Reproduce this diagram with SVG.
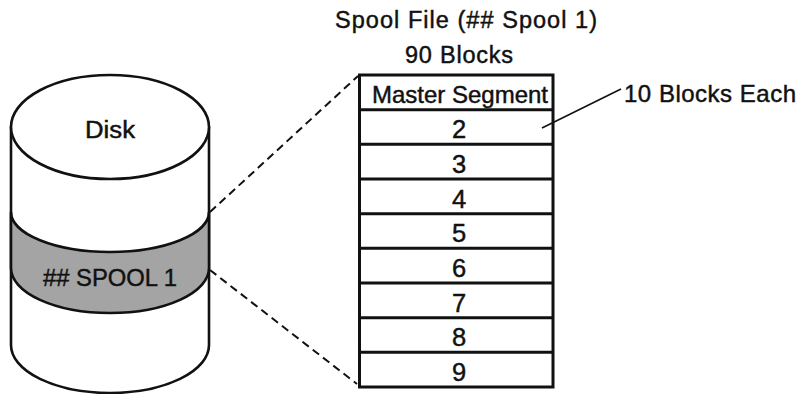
<svg xmlns="http://www.w3.org/2000/svg" width="798" height="394" viewBox="0 0 798 394">
<style>
  .t { font-family: "Liberation Sans", Arial, sans-serif; fill: #111; stroke: #111; stroke-width: 0.45; }
  .cyl { fill: #fff; stroke: #111; stroke-width: 2.6; stroke-linejoin: round; }
  .band { fill: #a4a4a4; stroke: #111; stroke-width: 2.6; }
  .row { fill: #fff; stroke: #111; stroke-width: 3; }
  .dash { fill: none; stroke: #111; stroke-width: 2; stroke-dasharray: 8 5; }
  .lead { fill: none; stroke: #111; stroke-width: 1.6; }
</style>
<rect width="798" height="394" fill="#fff"/>

<g id="disk">
  <path class="cyl" d="M11,127 L11,345 A99,48 0 0,0 209,345 L209,127 Z"/>
  <path class="band" d="M11,212 A99,40 0 0,0 209,212 L209,268 A99,45 0 0,1 11,268 Z"/>
  <ellipse class="cyl" cx="110" cy="127" rx="99" ry="52"/>
  <text class="t" x="85" y="138" font-size="23" textLength="50" lengthAdjust="spacingAndGlyphs">Disk</text>
  <text class="t" x="43" y="286" font-size="24" textLength="134" lengthAdjust="spacingAndGlyphs">## SPOOL 1</text>
</g>

<g id="spool-file-title">
  <text class="t" x="335" y="28" font-size="23.5" textLength="262" lengthAdjust="spacing">Spool File (## Spool 1)</text>
  <text class="t" x="405" y="63" font-size="23.5" textLength="108" lengthAdjust="spacing">90 Blocks</text>
</g>

<g id="spool-file">
  <rect class="row" x="359.5" y="75" width="193.5" height="312"/>
  <line class="row" x1="359.5" y1="109.7" x2="553" y2="109.7"/>
  <line class="row" x1="359.5" y1="144.3" x2="553" y2="144.3"/>
  <line class="row" x1="359.5" y1="179" x2="553" y2="179"/>
  <line class="row" x1="359.5" y1="213.7" x2="553" y2="213.7"/>
  <line class="row" x1="359.5" y1="248.3" x2="553" y2="248.3"/>
  <line class="row" x1="359.5" y1="283" x2="553" y2="283"/>
  <line class="row" x1="359.5" y1="317.7" x2="553" y2="317.7"/>
  <line class="row" x1="359.5" y1="352.3" x2="553" y2="352.3"/>
  <g id="seg-master"><text class="t" x="372" y="103" font-size="24" textLength="176" lengthAdjust="spacingAndGlyphs">Master Segment</text></g>
  <g font-size="25.5" text-anchor="middle">
    <g id="seg-2"><text class="t" x="459" y="137.5">2</text></g>
    <g id="seg-3"><text class="t" x="459" y="172.5">3</text></g>
    <g id="seg-4"><text class="t" x="459" y="207.5">4</text></g>
    <g id="seg-5"><text class="t" x="459" y="242">5</text></g>
    <g id="seg-6"><text class="t" x="459" y="277">6</text></g>
    <g id="seg-7"><text class="t" x="459" y="311.5">7</text></g>
    <g id="seg-8"><text class="t" x="459" y="346">8</text></g>
    <g id="seg-9"><text class="t" x="459" y="381">9</text></g>
  </g>
</g>

<g id="note">
  <text class="t" x="624" y="102" font-size="24" textLength="172" lengthAdjust="spacing">10 Blocks Each</text>
</g>

<g id="connectors">
  <line class="dash" x1="210" y1="212" x2="358" y2="76"/>
  <line class="dash" x1="210" y1="270" x2="357" y2="384"/>
  <line class="lead" x1="542" y1="128" x2="621" y2="89"/>
</g>
</svg>
